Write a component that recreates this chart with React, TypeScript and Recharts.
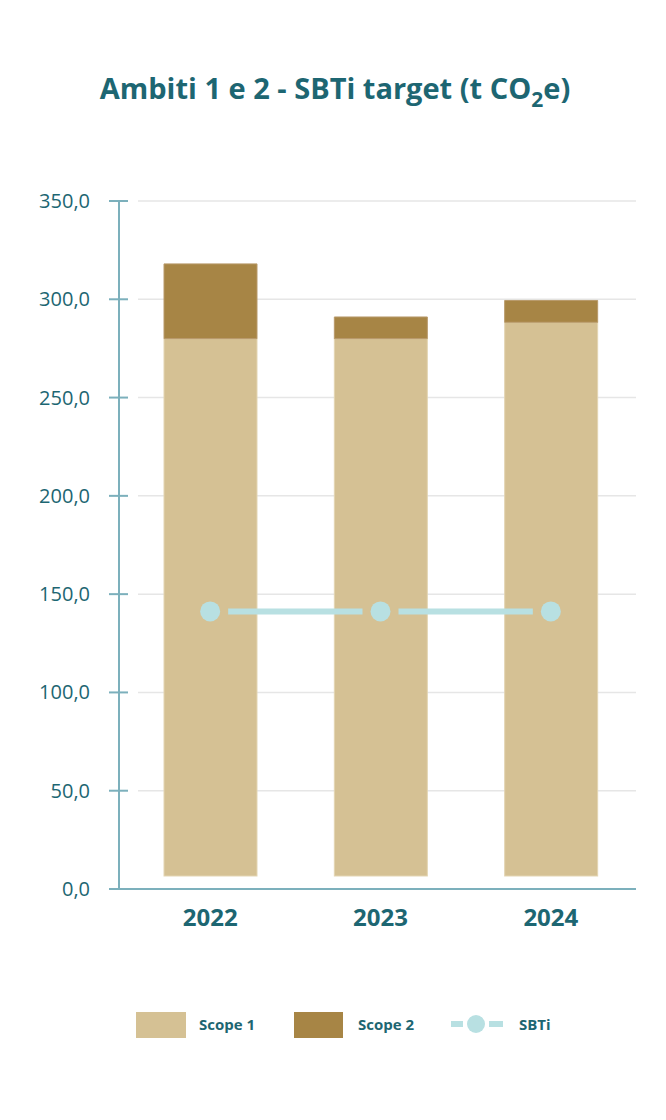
import { Bar, CartesianGrid, ComposedChart, Line, XAxis, YAxis } from "recharts";

const YEARS = ["2022", "2023", "2024"];
const SCOPE1 = [280, 280, 288.3];
const SCOPE2 = [38, 11, 11.1];
const SBTI = [141.2, 141.2, 141.2];
const Y_TICKS = [0, 50, 100, 150, 200, 250, 300, 350];

const data = YEARS.map((year, i) => ({
  year,
  scope1: SCOPE1[i],
  scope2: SCOPE2[i],
  sbti: SBTI[i],
}));

const INK = "#1d6672";
const AXIS_C = "#7cb0bc";
const S1 = "#d5c194";
const S2 = "#a78545";
const SBTI_C = "#b8e0e2";
const FONT = "'Open Sans', sans-serif";

// layout
const W = 666;
const H = 1120;
const AXIS_X = 119;
const PLOT_TOP = 201;
const PLOT_RIGHT = 30;
const X_AXIS_H = 231;
const PAD_L = 6;
const BAND = (W - PLOT_RIGHT - AXIS_X - PAD_L) / 3;
const GAP = 18;

function YTick({ y, payload }: any) {
  return (
    <g>
      <line x1={AXIS_X - 10} x2={AXIS_X + 9} y1={y} y2={y} stroke={AXIS_C} strokeWidth={2} />
      <text x={90} y={y} dy={7} textAnchor="end" fill={INK} fontSize={20} fontFamily={FONT}>
        {payload.value.toFixed(1).replace(".", ",")}
      </text>
    </g>
  );
}

function XTick({ x, payload }: any) {
  return (
    <text x={x} y={926} textAnchor="middle" fill={INK} fontSize={24} fontWeight={700} fontFamily={FONT}>
      {payload.value}
    </text>
  );
}

// scope 1 bars stop a little above the axis line in the original
function Scope1Shape({ x, y, width, height }: any) {
  return <rect x={x} y={y} width={width} height={Math.max(0, height - 13)} fill={S1} stroke="#e3d5b3" strokeWidth={1} />;
}

function SbtiDot({ cx, cy, index }: any) {
  return <circle key={index} cx={cx} cy={cy} r={10} fill={SBTI_C} />;
}

function Legend() {
  const txt = { fontFamily: FONT, fontWeight: 700, fontSize: 15, color: INK, position: "absolute" as const, top: 1014 };
  return (
    <>
      <div style={{ position: "absolute", left: 136, top: 1012, width: 50, height: 26, background: S1 }} />
      <div style={{ ...txt, left: 199 }}>Scope 1</div>
      <div style={{ position: "absolute", left: 294, top: 1012, width: 49, height: 26, background: S2 }} />
      <div style={{ ...txt, left: 358 }}>Scope 2</div>
      <svg style={{ position: "absolute", left: 450, top: 1014 }} width={54} height={20}>
        <line x1={1} x2={13} y1={10} y2={10} stroke={SBTI_C} strokeWidth={6} />
        <circle cx={26} cy={10} r={9} fill={SBTI_C} />
        <line x1={39} x2={53} y1={10} y2={10} stroke={SBTI_C} strokeWidth={6} />
      </svg>
      <div style={{ ...txt, left: 519 }}>SBTi</div>
    </>
  );
}

export default function App() {
  return (
    <div style={{ position: "absolute", left: 0, top: 0, width: W, height: H, background: "#fff" }}>
      <div
        style={{
          position: "absolute", left: 2, top: 72, width: W, textAlign: "center",
          fontFamily: FONT, fontWeight: 700, fontSize: 29, lineHeight: "32px", color: INK,
        }}
      >
        Ambiti 1 e 2 - SBTi target (t CO
        <span style={{ fontSize: 21, position: "relative", top: 8 }}>2</span>e)
      </div>
      <div style={{ position: "absolute", left: 0, top: 0 }}>
        <ComposedChart
          width={W}
          height={H}
          data={data}
          margin={{ top: PLOT_TOP, right: PLOT_RIGHT, left: 0, bottom: 0 }}
        >
          <CartesianGrid
            vertical={false}
            horizontal={(p: any) => (
              <line key={p.index} x1={138} x2={p.x2} y1={p.y1} y2={p.y2} stroke="#e6e6e6" strokeWidth={1.5} />
            )}
          />
          <XAxis
            dataKey="year"
            height={X_AXIS_H}
            padding={{ left: PAD_L, right: 0 }}
            axisLine={{ stroke: AXIS_C, strokeWidth: 2 }}
            tickLine={false}
            tick={<XTick />}
          />
          <YAxis
            width={AXIS_X}
            domain={[0, 350]}
            ticks={Y_TICKS}
            axisLine={{ stroke: AXIS_C, strokeWidth: 2 }}
            tickLine={false}
            tick={<YTick />}
          />
          <Bar dataKey="scope1" stackId="a" barSize={93} fill={S1} shape={<Scope1Shape />} isAnimationActive={false} />
          <Bar dataKey="scope2" stackId="a" barSize={93} fill={S2} stroke="#b8996a" strokeWidth={1} isAnimationActive={false} />
          <Line
            dataKey="sbti"
            stroke={SBTI_C}
            strokeWidth={6}
            strokeDasharray={`0 ${GAP} ${BAND - 2 * GAP} ${GAP}`}
            dot={<SbtiDot />}
            activeDot={false}
            isAnimationActive={false}
          />
        </ComposedChart>
      </div>
      <Legend />
    </div>
  );
}
